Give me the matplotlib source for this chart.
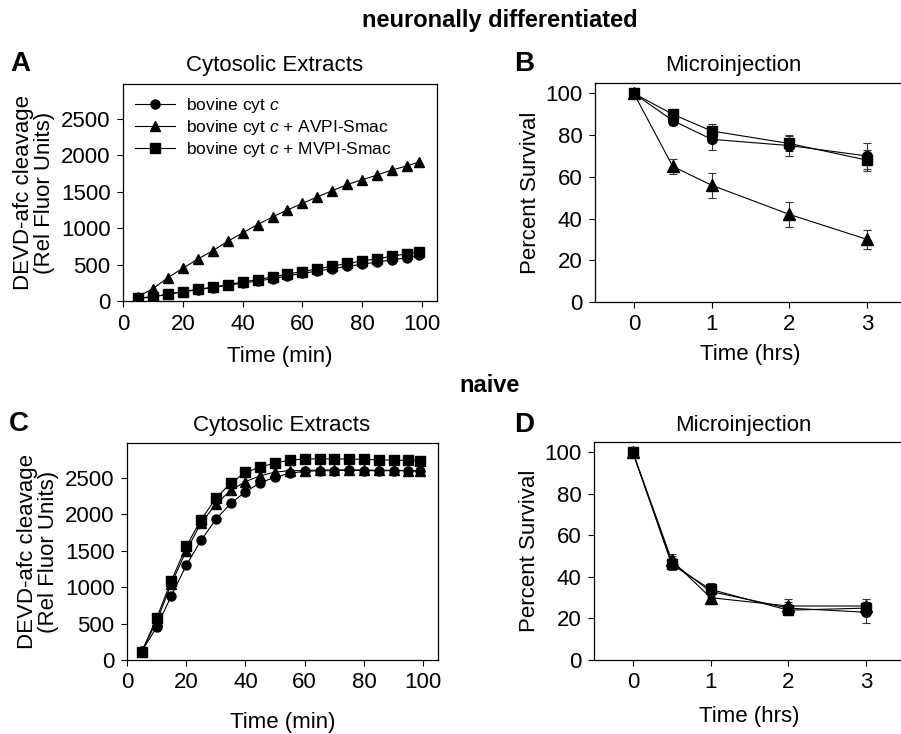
#!/usr/bin/env python3
"""Smac peptide caspase activity and survival panels (A-D)."""

import matplotlib

matplotlib.use("Agg")
import matplotlib.pyplot as plt

plt.rcParams["font.family"] = ["Liberation Sans", "DejaVu Sans"]
plt.rcParams["mathtext.fontset"] = "custom"
plt.rcParams["mathtext.it"] = "Liberation Sans:italic"
plt.rcParams["mathtext.rm"] = "Liberation Sans"

# --- data -----------------------------------------------------------------
time_min = [5, 10, 15, 20, 25, 30, 35, 40, 45, 50, 55, 60, 65, 70, 75, 80, 85, 90, 95, 99]
time_hrs = [0, 0.5, 1, 2, 3]

series_labels = [
    "bovine cyt $c$",
    "bovine cyt $c$ + AVPI-Smac",
    "bovine cyt $c$ + MVPI-Smac",
]

# A: neuronally differentiated, cytosolic extracts
diff_cyt = [40, 60, 90, 125, 155, 185, 215, 245, 275, 305, 345, 380, 410, 445, 475, 505, 535, 565, 595, 625]
diff_avpi = [60, 170, 320, 450, 575, 690, 820, 935, 1050, 1155, 1250, 1340, 1430, 1515, 1600, 1665, 1730, 1800, 1855, 1910]
diff_mvpi = [35, 55, 95, 130, 160, 190, 225, 260, 295, 330, 370, 405, 440, 480, 515, 550, 580, 615, 650, 675]

# B: neuronally differentiated, microinjection
diffmi_cyt = [100, 87, 78, 75, 70]
diffmi_cyt_err = [1, 2, 5, 5, 6]
diffmi_avpi = [100, 65, 56, 42, 30]
diffmi_avpi_err = [1, 3.5, 6, 6, 4.5]
diffmi_mvpi = [100, 90, 82, 76, 68]
diffmi_mvpi_err = [1, 1.5, 3.5, 3.5, 5]

# C: naive, cytosolic extracts
naive_cyt = [120, 450, 885, 1300, 1645, 1930, 2150, 2310, 2435, 2510, 2565, 2590, 2600, 2600, 2610, 2600, 2600, 2600, 2600, 2590]
naive_avpi = [120, 530, 1050, 1500, 1880, 2140, 2330, 2450, 2530, 2580, 2600, 2600, 2610, 2610, 2610, 2610, 2605, 2605, 2600, 2600]
naive_mvpi = [115, 575, 1090, 1560, 1925, 2220, 2430, 2575, 2650, 2705, 2745, 2760, 2765, 2760, 2760, 2755, 2748, 2745, 2740, 2735]

# D: naive, microinjection
naivemi_cyt = [100, 47, 33, 25, 23]
naivemi_cyt_err = [1, 3, 2.5, 3, 5]
naivemi_avpi = [100, 48, 30, 26, 26]
naivemi_avpi_err = [1, 3, 2, 3.5, 3.5]
naivemi_mvpi = [100, 46, 34, 24, 25]
naivemi_mvpi_err = [1, 2.5, 3, 2.5, 3]

MARKERS = ["o", "^", "s"]
FS = 16


def style_axes(ax):
    ax.tick_params(direction="out", length=4, width=0.8, pad=5, labelsize=FS, top=False, right=False)
    for sp in ax.spines.values():
        sp.set_linewidth(0.9)


def extract_panel(ax, ys):
    for y, m, lab in zip(ys, MARKERS, series_labels):
        ax.plot(time_min, y, marker=m, color="black", markersize=7.5 if m == "^" else 6.5,
                linewidth=0.8, label=lab)
    ax.set_xlim(0, 105)
    ax.set_ylim(0, 2980)
    ax.set_xticks([0, 20, 40, 60, 80, 100])
    ax.set_yticks([0, 500, 1000, 1500, 2000, 2500])
    ax.set_ylabel("DEVD-afc cleavage\n(Rel Fluor Units)", fontsize=FS, labelpad=4, linespacing=1.0)
    style_axes(ax)


def survival_panel(ax, ys, errs):
    for y, e, m in zip(ys, errs, MARKERS):
        ax.errorbar(time_hrs, y, yerr=e, marker=m, color="black", ecolor="#333333",
                    markersize=8 if m == "^" else 7, linewidth=0.8, elinewidth=0.8,
                    capsize=3, capthick=0.8)
    ax.set_xlim(-0.5, 3.5)
    ax.set_ylim(0, 105)
    ax.set_xticks([0, 1, 2, 3])
    ax.set_yticks([0, 20, 40, 60, 80, 100])
    ax.set_ylabel("Percent Survival", fontsize=FS, labelpad=3)
    style_axes(ax)


fig = plt.figure(figsize=(9.01, 7.34), dpi=100)
W, H = 901.0, 734.0


def add_axes_px(left, top, right, bottom):
    return fig.add_axes([left / W, 1 - bottom / H, (right - left) / W, (bottom - top) / H])


ax_a = add_axes_px(123, 84, 437, 301)
ax_b = add_axes_px(595, 83, 906, 302)
ax_c = add_axes_px(127, 443, 438, 660)
ax_d = add_axes_px(594, 442, 905, 660)

extract_panel(ax_a, [diff_cyt, diff_avpi, diff_mvpi])
ax_a.set_xlabel("Time (min)", fontsize=FS, labelpad=8)
ax_a.legend(loc="upper left", frameon=False, fontsize=12.5, handlelength=2.3,
            handletextpad=0.6, borderaxespad=0.3, borderpad=0.4, labelspacing=0.16)

survival_panel(ax_b, [diffmi_cyt, diffmi_avpi, diffmi_mvpi],
               [diffmi_cyt_err, diffmi_avpi_err, diffmi_mvpi_err])
ax_b.set_xlabel("Time (hrs)", fontsize=FS, labelpad=6)

extract_panel(ax_c, [naive_cyt, naive_avpi, naive_mvpi])
ax_c.set_xlabel("Time (min)", fontsize=FS, labelpad=13)

survival_panel(ax_d, [naivemi_cyt, naivemi_avpi, naivemi_mvpi],
               [naivemi_cyt_err, naivemi_avpi_err, naivemi_mvpi_err])
ax_d.set_xlabel("Time (hrs)", fontsize=FS, labelpad=9)

# titles, group headings and panel letters
fig.text(500 / W, 1 - 20 / H, "neuronally differentiated", ha="center", va="center",
         fontsize=17, fontweight="bold")
fig.text(490 / W, 1 - 386 / H, "naive", ha="center", va="center", fontsize=17, fontweight="bold")
fig.text(275 / W, 1 - 66 / H, "Cytosolic Extracts", ha="center", va="center", fontsize=FS)
fig.text(733 / W, 1 - 66 / H, "Microinjection", ha="center", va="center", fontsize=FS)
fig.text(282 / W, 1 - 426 / H, "Cytosolic Extracts", ha="center", va="center", fontsize=FS)
fig.text(743 / W, 1 - 426 / H, "Microinjection", ha="center", va="center", fontsize=FS)
for letter, x, y in [("A", 20, 64), ("B", 524, 64), ("C", 19, 424), ("D", 524, 425)]:
    fig.text(x / W, 1 - y / H, letter, ha="center", va="center", fontsize=20, fontweight="bold")

fig.savefig("out.png", dpi=100)
